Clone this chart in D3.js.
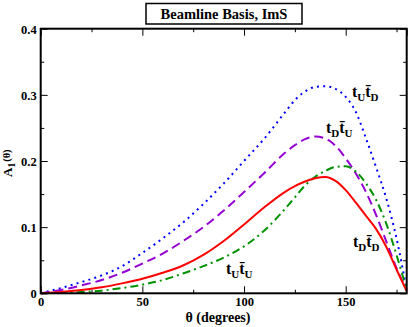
<!DOCTYPE html>
<html><head><meta charset="utf-8">
<script src="https://cdn.jsdelivr.net/npm/d3@7"></script>
<style>body{margin:0;background:#fff}svg{display:block}text{font-family:"Liberation Serif","Times New Roman",serif !important;font-weight:bold}</style>
</head><body><svg id="c" width="409" height="327"></svg>
<script>
const theta = [0,10,20,30,40,50,60,70,80,90,100,110,120,125,130,135,140,145,150,155,160,165,170,175,180];
const tUtDbar = [0,0.008,0.017,0.027,0.041,0.061,0.083,0.107,0.135,0.166,0.200,0.234,0.273,0.292,0.305,0.312,0.313,0.309,0.297,0.274,0.234,0.190,0.143,0.083,0.005];
const tDtUbar = [0,0.005,0.012,0.020,0.031,0.045,0.060,0.079,0.100,0.125,0.153,0.182,0.212,0.224,0.233,0.237,0.234,0.223,0.204,0.181,0.153,0.118,0.078,0.038,0.005];
const redSeries = [0,0.002,0.005,0.009,0.015,0.022,0.031,0.042,0.058,0.079,0.104,0.130,0.153,0.162,0.169,0.174,0.176,0.170,0.156,0.137,0.117,0.097,0.070,0.036,0.003];
const greenSeries = [0,0.001,0.002,0.004,0.008,0.013,0.020,0.030,0.041,0.054,0.071,0.095,0.127,0.145,0.163,0.176,0.185,0.191,0.192,0.184,0.166,0.141,0.105,0.058,0.005];
const xTicks = [0,50,100,150];
const yTicks = [0,0.1,0.2,0.3,0.4];
const xTickLabels = ["0","50","100","150"];
const yTickLabels = ["0","0.1","0.2","0.3","0.4"];

const svg = d3.select("#c");
const L=40.7,R=406.7,T=28.7,B=293.3;
const x = d3.scaleLinear().domain([0,180]).range([L,R]);
const y = d3.scaleLinear().domain([0,0.4]).range([B,T]);

// title box
svg.append("rect").attr("x",146).attr("y",3.5).attr("width",156).attr("height",20.5).attr("fill","#fff").attr("stroke","#000").attr("stroke-width",1.5);
svg.append("text").attr("x",224).attr("y",19).attr("text-anchor","middle").attr("font-size",14.5).text("Beamline Basis, ImS");

const series = [
  {v:tUtDbar,c:"#0000ff",d:"2,4.2",w:2},
  {v:tDtUbar,c:"#9400d3",d:"9,5",w:2},
  {v:greenSeries,c:"#009100",d:"8,4,2,4",w:2},
  {v:redSeries,c:"#ff0000",d:null,w:2}
];
const line = d3.line().x((d,i)=>x(theta[i])).y(d=>y(d)).curve(d3.curveMonotoneX);
const g = svg.append("g");
series.forEach(s=>{
  const p=g.append("path").attr("d",line(s.v)).attr("fill","none").attr("stroke",s.c).attr("stroke-width",s.w);
  if(s.d) p.attr("stroke-dasharray",s.d);
});

// axes
const fmt=(arr,vals)=>d=>arr[vals.indexOf(d)];
const xb=svg.append("g").attr("transform",`translate(0,${B})`).call(d3.axisBottom(x).tickValues(xTicks).tickSize(-7).tickPadding(4).tickFormat(fmt(xTickLabels,xTicks)));
const xbm=svg.append("g").attr("transform",`translate(0,${B})`).call(d3.axisBottom(x).tickValues([25,75,125,175]).tickSize(-3.5).tickFormat(""));
const xt=svg.append("g").attr("transform",`translate(0,${T})`).call(d3.axisTop(x).tickValues(xTicks.concat([180])).tickSize(-7).tickFormat(""));
const xtm=svg.append("g").attr("transform",`translate(0,${T})`).call(d3.axisTop(x).tickValues([25,75,125,175]).tickSize(-3.5).tickFormat(""));
const yl=svg.append("g").attr("transform",`translate(${L},0)`).call(d3.axisLeft(y).tickValues(yTicks).tickSize(-7).tickPadding(4).tickFormat(fmt(yTickLabels,yTicks)));
const ylm=svg.append("g").attr("transform",`translate(${L},0)`).call(d3.axisLeft(y).tickValues([0.05,0.15,0.25,0.35]).tickSize(-3.5).tickFormat(""));
const yr=svg.append("g").attr("transform",`translate(${R},0)`).call(d3.axisRight(y).tickValues(yTicks).tickSize(-7).tickFormat(""));
const yrm=svg.append("g").attr("transform",`translate(${R},0)`).call(d3.axisRight(y).tickValues([0.05,0.15,0.25,0.35]).tickSize(-3.5).tickFormat(""));
[xb,xbm,xt,xtm,yl,ylm,yr,yrm].forEach(a=>{
  a.attr("font-family",null);
  a.select(".domain").remove();
  a.selectAll(".tick line").attr("stroke","#000").attr("stroke-width",1);
  a.selectAll("text").attr("font-size",12.5).style("font-family",'"Liberation Serif",serif').style("font-weight","bold").attr("fill","#000");
});
yl.selectAll("text").attr("dy","0.35em");
svg.append("rect").attr("x",L).attr("y",T).attr("width",R-L).attr("height",B-T).attr("fill","none").attr("stroke","#000").attr("stroke-width",2);

// axis titles
svg.append("text").attr("x",218).attr("y",322).attr("text-anchor","middle").attr("font-size",14).text("θ (degrees)");
const yt=svg.append("text").attr("transform","translate(12,177) rotate(-90)").attr("text-anchor","start").attr("font-size",13);
yt.append("tspan").text("A");
yt.append("tspan").attr("font-size",9.5).attr("dy",3).text("1");
yt.append("tspan").attr("dy",-5).attr("font-size",10.5).attr("dx",1).text("(θ)");

// curve labels
function lab(px,py,a,b){
  const t=svg.append("text").attr("x",px).attr("y",py).attr("font-size",16);
  t.append("tspan").text("t");
  t.append("tspan").attr("font-size",11).attr("dy",4).text(a);
  t.append("tspan").attr("dy",-4).text("t\u0304");
  t.append("tspan").attr("font-size",11).attr("dy",4).text(b);
}
lab(352,97,"U","D");
lab(326,133,"D","U");
lab(353,247,"D","D");
lab(226,274,"U","U");
</script></body></html>
